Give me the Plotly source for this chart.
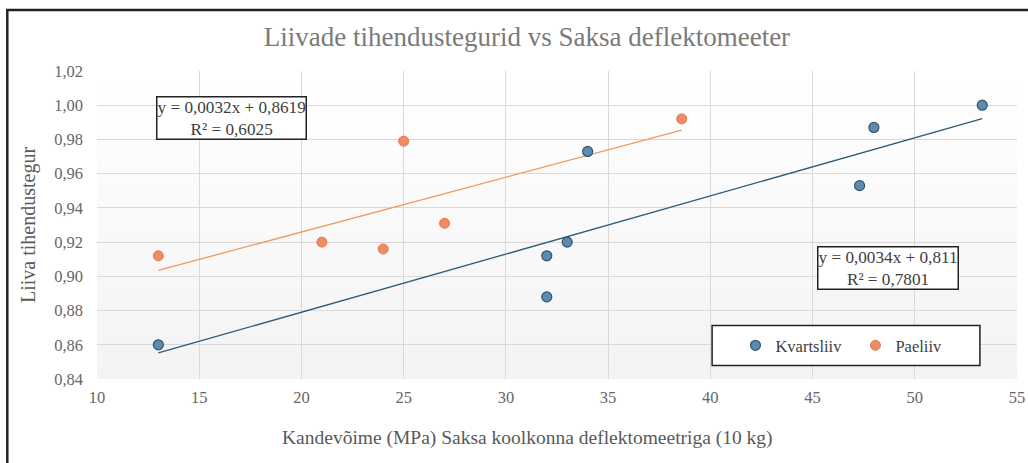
import numpy as np
import plotly.graph_objects as go

# Kvartsliiv (quartz sand) measurements
kv_x = [13, 32, 32, 33, 34, 47.3, 48, 53.3]
kv_y = [0.860, 0.912, 0.888, 0.920, 0.973, 0.953, 0.987, 1.000]

# Paeliiv (limestone sand) measurements
pa_x = [13, 21, 24, 25, 27, 38.6]
pa_y = [0.912, 0.920, 0.916, 0.979, 0.931, 0.992]

# Linear trendline coefficients as reported on the chart
kv_slope, kv_icpt, kv_r2 = 0.0034, 0.811, 0.7801
pa_slope, pa_icpt, pa_r2 = 0.0032, 0.8619, 0.6025

x_ticks = [10, 15, 20, 25, 30, 35, 40, 45, 50, 55]
y_ticks = [0.84, 0.86, 0.88, 0.90, 0.92, 0.94, 0.96, 0.98, 1.00, 1.02]

SERIF = "Liberation Serif"
BLUE_FILL, BLUE_EDGE, BLUE_LINE = "#5e8bad", "#2f5673", "#2b5a7a"
ORNG_FILL, ORNG_EDGE, ORNG_LINE = "#ef8c64", "#e07a4e", "#ec9a5f"

fig = go.Figure()

# trendlines spanning each series' x range
for xs, m, b, col in [(kv_x, kv_slope, kv_icpt, BLUE_LINE),
                      (pa_x, pa_slope, pa_icpt, ORNG_LINE)]:
    tx = np.array([min(xs), max(xs)])
    fig.add_trace(go.Scatter(x=tx, y=m * tx + b, mode="lines",
                             line=dict(color=col, width=1.3),
                             showlegend=False, hoverinfo="skip"))

fig.add_trace(go.Scatter(x=kv_x, y=kv_y, mode="markers", name="Kvartsliiv",
                         marker=dict(size=10, color=BLUE_FILL,
                                     line=dict(color=BLUE_EDGE, width=1.2))))
fig.add_trace(go.Scatter(x=pa_x, y=pa_y, mode="markers", name="Paeliiv",
                         marker=dict(size=10, color=ORNG_FILL,
                                     line=dict(color=ORNG_EDGE, width=1))))

shapes = []
# subtle vertical shading of the plot area
n = 24
for i in range(n):
    g = int(round(255 - 12 * (i + 0.5) / n))
    shapes.append(dict(type="rect", xref="paper", yref="paper",
                       x0=0, x1=1, y0=1 - (i + 1) / n, y1=1 - i / n,
                       fillcolor=f"rgb({g},{g},{g})", line=dict(width=0),
                       layer="below"))
# legend frame
shapes.append(dict(type="rect", xref="paper", yref="paper",
                   x0=0.6686, x1=0.9597, y0=0.0438, y1=0.1734,
                   fillcolor="white", line=dict(color="#222222", width=1.5),
                   layer="above"))
# outer chart frame
shapes.append(dict(type="rect", xref="paper", yref="paper",
                   x0=-0.0975, x1=1.02, y0=-0.3, y1=1.198,
                   line=dict(color="#222222", width=2.5)))


def eq_text(m, b, r2):
    def f(v):
        return f"{v:g}".replace(".", ",")
    return f"y = {f(m)}x + {f(b)}<br>R² = {f(r2)}"


eq_box = dict(showarrow=False, xref="paper", yref="paper",
              xanchor="center", yanchor="middle",
              font=dict(family=SERIF, size=17.2, color="#404040"),
              bgcolor="white", bordercolor="#222222", borderwidth=1.5,
              borderpad=0, align="center")

annotations = [
    dict(eq_box, x=0.1467, y=0.846, text=eq_text(pa_slope, pa_icpt, pa_r2)),
    dict(eq_box, x=0.86, y=0.36, text=eq_text(kv_slope, kv_icpt, kv_r2)),
    # x-axis title
    dict(xref="paper", yref="paper", x=0.4677, y=-0.19,
         xanchor="center", yanchor="middle", showarrow=False,
         text="Kandevõime (MPa) Saksa koolkonna deflektomeetriga (10 kg)",
         font=dict(family=SERIF, size=19.5, color="#595959")),
]

fig.update_layout(
    width=1028, height=463,
    margin=dict(l=96.5, r=11, t=71, b=83.5, autoexpand=False),
    paper_bgcolor="white", plot_bgcolor="white",
    separators=", ",
    font=dict(family=SERIF, color="#595959"),
    title=dict(text="Liivade tihendustegurid vs Saksa deflektomeeter",
               x=0.5126, xref="container", xanchor="center",
               y=0.922, yref="container", yanchor="middle",
               font=dict(family=SERIF, size=27, color="#7a7a7a")),
    xaxis=dict(range=[10, 55], tickvals=x_ticks, showgrid=True,
               gridcolor="#d9d9d9", gridwidth=1, zeroline=False,
               showline=False, ticks="", ticklabelstandoff=6,
               automargin=False,
               tickfont=dict(family=SERIF, size=16.5, color="#666666")),
    yaxis=dict(range=[0.84, 1.02], tickvals=y_ticks, tickformat=".2f",
               showgrid=True, gridcolor="#d9d9d9", gridwidth=1,
               zeroline=False, showline=False, ticks="",
               ticklabelstandoff=13, automargin=False,
               tickfont=dict(family=SERIF, size=16.5, color="#666666"),
               title=dict(text="Liiva tihendustegur",
                          font=dict(family=SERIF, size=20, color="#595959"),
                          standoff=13)),
    legend=dict(orientation="h", xref="paper", yref="paper",
                x=0.8244, y=0.1086, xanchor="center", yanchor="middle",
                bgcolor="rgba(0,0,0,0)", borderwidth=0,
                font=dict(family=SERIF, size=16.5, color="#404040"),
                itemwidth=30, entrywidth=75, entrywidthmode="pixels",
                traceorder="normal"),
    shapes=shapes,
    annotations=annotations,
)

fig.write_html("out.html")
